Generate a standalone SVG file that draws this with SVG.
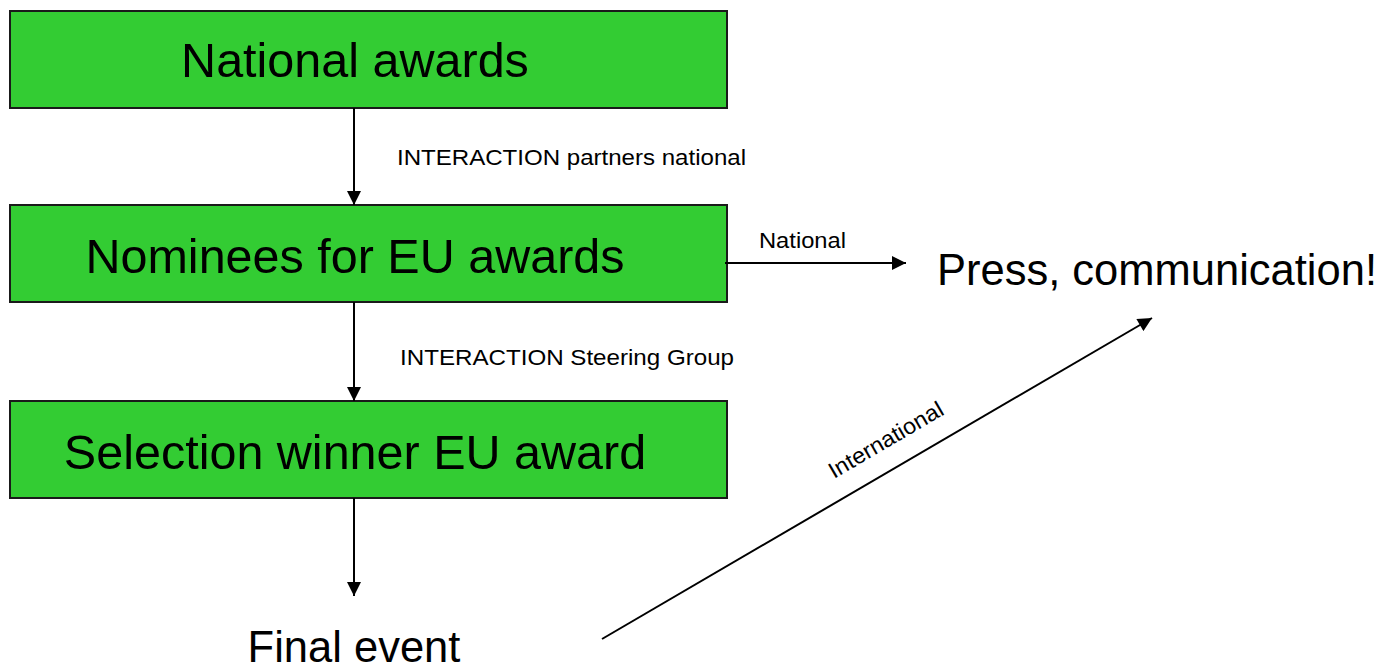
<svg xmlns="http://www.w3.org/2000/svg" width="1381" height="665" viewBox="0 0 1381 665">
<defs>
<style>
.box{fill:#33CC33;stroke:#1a1a1a;stroke-width:2}
.big{font-family:"Liberation Sans",Arial,sans-serif;font-size:48.5px;fill:#000}
.lg{font-family:"Liberation Sans",Arial,sans-serif;font-size:43.5px;fill:#000}
.sm{font-family:"Liberation Sans",Arial,sans-serif;font-size:22.5px;fill:#000}
.conn{stroke:#000;stroke-width:2;fill:none;marker-end:url(#ah)}
</style>
<marker id="ah" viewBox="0 0 10 10" refX="10" refY="5" markerUnits="userSpaceOnUse" markerWidth="15" markerHeight="14" orient="auto">
<path d="M0,0 L10,5 L0,10 z" fill="#000"/>
</marker>
</defs>
<rect width="1381" height="665" fill="#fff"/>
<g id="national-awards">
<rect class="box" x="10" y="11" width="717" height="97"/>
<text class="big" x="355" y="77" text-anchor="middle">National awards</text>
</g>
<g id="nominees">
<rect class="box" x="10" y="205" width="717" height="97"/>
<text class="big" x="355" y="273" text-anchor="middle">Nominees for EU awards</text>
</g>
<g id="selection">
<rect class="box" x="10" y="401" width="717" height="97"/>
<text class="big" x="355" y="469" text-anchor="middle">Selection winner EU award</text>
</g>
<g id="final-event">
<text class="lg" x="354" y="662" text-anchor="middle">Final event</text>
</g>
<g id="press">
<text class="lg" x="937" y="285">Press, communication!</text>
</g>
<g id="connectors">
<line class="conn" x1="354" y1="108" x2="354" y2="205"/>
<line class="conn" x1="354" y1="302" x2="354" y2="401"/>
<line class="conn" x1="354" y1="498" x2="354" y2="596"/>
<line class="conn" x1="725" y1="263" x2="906" y2="263"/>
<line class="conn" x1="602" y1="639" x2="1152" y2="318"/>
<text class="sm" x="397" y="165" textLength="349" lengthAdjust="spacingAndGlyphs">INTERACTION partners national</text>
<text class="sm" x="400" y="365" textLength="334" lengthAdjust="spacingAndGlyphs">INTERACTION Steering Group</text>
<text class="sm" x="759" y="248" textLength="87" lengthAdjust="spacingAndGlyphs">National</text>
<text class="sm" transform="translate(834,479) rotate(-30.3)" textLength="129" lengthAdjust="spacingAndGlyphs">International</text>
</g>
</svg>
